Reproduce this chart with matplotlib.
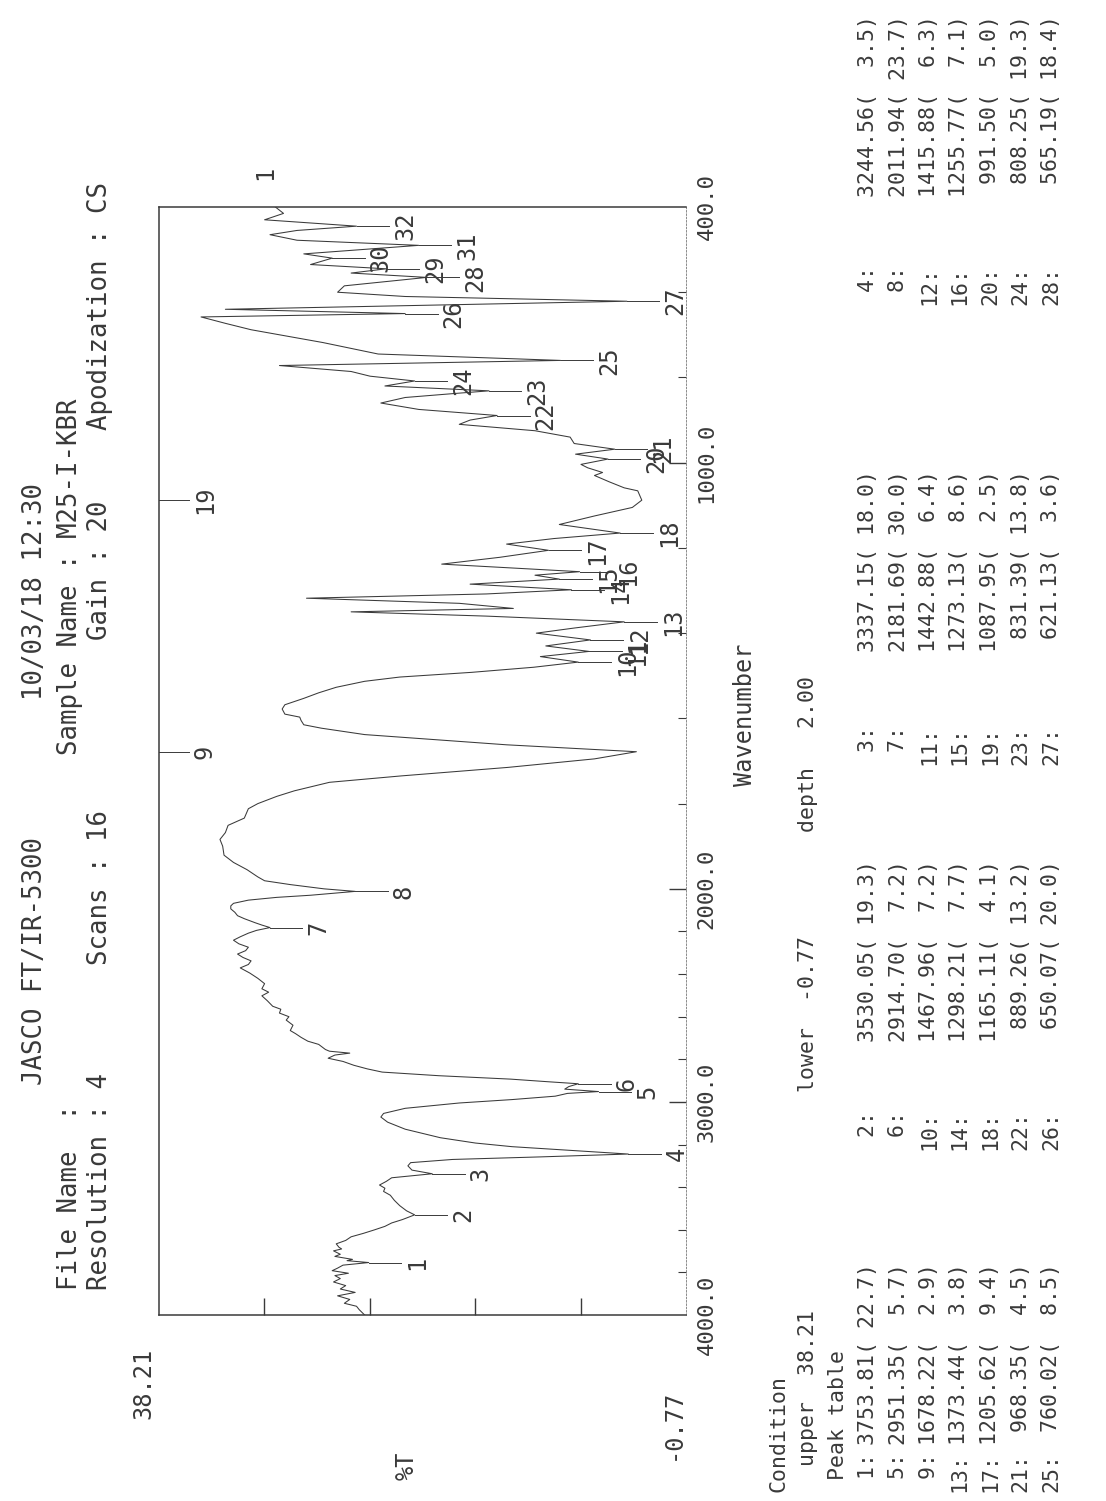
import numpy as np
import matplotlib.pyplot as plt
from matplotlib.transforms import blended_transform_factory

W, H = 1106, 1501
INK = "#3a3a3a"
MONO = "DejaVu Sans Mono"
FS = 17

# spectrum trace (cm-1, %T)
wavenumber = [
    4000, 3975, 3959, 3945, 3927, 3910, 3894, 3878, 3862, 3845, 3829, 3815,
    3804, 3792, 3780, 3766, 3753.81, 3745, 3739, 3725, 3715, 3699, 3690, 3682,
    3666, 3650, 3633, 3617, 3601, 3584, 3568, 3552, 3530.05, 3511, 3487, 3462,
    3438, 3420, 3405, 3390, 3373, 3356, 3337.15, 3320, 3300, 3285, 3270, 3258,
    3244.56, 3226, 3210, 3193, 3168, 3128, 3095, 3071, 3054, 3030, 3005, 2989,
    2973, 2960, 2951.35, 2940, 2928, 2914.70, 2905, 2893, 2877, 2860, 2845, 2828,
    2810, 2795, 2780, 2771, 2762, 2754, 2730, 2715, 2697, 2680, 2665, 2640,
    2616, 2600, 2583, 2565, 2551, 2525, 2502, 2485, 2469, 2445, 2420, 2395,
    2371, 2355, 2338, 2322, 2306, 2290, 2274, 2258, 2241, 2225, 2208, 2195,
    2181.69, 2170, 2159, 2140, 2126, 2110, 2094, 2080, 2068, 2053, 2040, 2030,
    2011.94, 2000, 1990, 1981, 1972, 1955, 1938, 1921, 1900, 1884, 1868, 1851,
    1834, 1812, 1800, 1783, 1770, 1750, 1735, 1715, 1695, 1678.22, 1662, 1650,
    1638, 1623, 1615, 1605, 1597, 1590, 1578, 1568, 1553, 1540, 1527, 1513,
    1503, 1492, 1480, 1467.96, 1455, 1442.88, 1430, 1415.88, 1400, 1388,
    1373.44, 1360, 1350, 1342, 1330, 1318, 1308, 1298.21, 1285, 1273.13, 1264,
    1255.77, 1238, 1222, 1205.62, 1191, 1178, 1165.11, 1145, 1125, 1105,
    1087.95, 1066, 1059, 1045, 1030, 1023, 1012, 1004, 991.50, 980, 968.35,
    955, 940, 925, 910, 900, 889.26, 875, 860, 847, 838, 831.39, 820, 808.25,
    797, 786, 772, 760.02, 745, 718, 688, 673, 658, 650.07, 640, 621.13, 610,
    600, 585, 565.19, 555, 545, 535, 520, 510, 490, 478, 465, 455, 445, 430,
    415, 400,
]
transmittance = [
    23.0, 23.4, 23.6, 24.5, 24.1, 25.0, 23.7, 24.8, 24.4, 25.3, 24.8, 25.2,
    24.2, 25.4, 25.0, 24.6, 22.7, 24.3, 23.9, 25.2, 24.8, 25.3, 24.7, 24.9,
    25.1, 24.4, 24.0, 23.1, 22.3, 21.5, 21.0, 20.2, 19.3, 19.9, 20.4, 20.8,
    21.1, 21.6, 21.5, 21.9, 21.4, 21.0, 18.0, 19.5, 19.8, 19.6, 16.5, 10.0,
    3.5, 8.1, 12.1, 14.8, 17.4, 20.0, 21.3, 21.8, 21.6, 20.0, 16.0, 12.1,
    8.9, 8.0, 5.7, 8.2, 7.9, 7.2, 9.5, 12.2, 17.5, 21.7, 22.8, 23.8,
    24.6, 25.7, 25.2, 24.1, 25.6, 25.9, 26.4, 27.2, 27.7, 28.1, 28.5, 28.3,
    28.8, 28.6, 29.3, 29.2, 29.8, 30.2, 30.6, 30.1, 30.6, 30.4, 30.9, 31.5,
    32.2, 31.6, 31.4, 32.0, 32.4, 31.8, 31.6, 32.3, 32.7, 32.2, 31.6, 31.0,
    30.0, 30.6, 31.1, 31.9, 32.4, 32.6, 32.9, 32.9, 32.7, 31.6, 29.5, 27.0,
    23.7, 26.0, 28.5, 30.4, 30.9, 31.7, 32.7, 33.4, 33.5, 33.7, 33.3, 33.1,
    31.9, 31.6, 30.9, 29.5, 28.2, 25.6, 20.3, 12.4, 6.0, 2.9, 12.5, 17.7,
    23.0, 26.2, 27.5, 27.7, 27.8, 28.9, 29.1, 28.9, 27.5, 26.4, 25.1, 23.0,
    20.4, 15.1, 10.5, 7.2, 10.0, 6.4, 9.6, 6.3, 10.3, 7.5,
    3.8, 14.0, 24.0, 12.0, 16.0, 27.3, 14.0, 7.7, 15.2, 8.6, 10.4,
    7.1, 17.3, 13.0, 9.4, 12.5, 9.0, 4.1, 8.6, 6.0, 3.2,
    2.5, 2.8, 3.8, 4.9, 6.0, 5.4, 6.5, 7.0, 5.0, 7.4, 4.5,
    7.5, 7.8, 10.4, 16.0, 15.2, 13.2, 19.0, 21.8, 20.0, 16.5, 13.8, 21.5, 19.3,
    22.6, 24.0, 29.3, 8.5, 22.0, 26.1, 31.4, 33.3, 35.1, 20.0, 33.3, 3.6, 20.0,
    25.0, 24.5, 18.4, 24.0, 21.4, 27.0, 25.4, 27.5, 19.0, 28.0, 30.0, 28.0, 23.6, 30.4,
    29.0, 29.6,
]

# peak table
peak_no = list(range(1, 33))
peak_wn = [3753.81, 3530.05, 3337.15, 3244.56, 2951.35, 2914.70, 2181.69, 2011.94,
           1678.22, 1467.96, 1442.88, 1415.88, 1373.44, 1298.21, 1273.13, 1255.77,
           1205.62, 1165.11, 1087.95, 991.50, 968.35, 889.26, 831.39, 808.25,
           760.02, 650.07, 621.13, 565.19, 545.0, 520.0, 490.0, 445.0]
peak_t = [22.7, 19.3, 18.0, 3.5, 5.7, 7.2, 30.0, 23.7,
          2.9, 7.2, 6.4, 6.3, 3.8, 7.7, 8.6, 7.1,
          9.4, 4.1, 2.5, 5.0, 4.5, 13.2, 13.8, 19.3,
          8.5, 20.0, 3.6, 18.4, 21.4, 25.4, 19.0, 23.6]
n_table = 28

upper, lower, depth = 38.21, -0.77, 2.00
wn_ticks = [4000, 3000, 2000, 1000, 400]


def fwd(w):
    w = np.asarray(w, dtype=float)
    return np.where(w <= 2000, 2 * w, w + 2000)


def inv(u):
    u = np.asarray(u, dtype=float)
    return np.where(u <= 4000, u / 2, u - 2000)


fig = plt.figure(figsize=(W / 100, H / 100), dpi=100)
fig.patch.set_facecolor("white")


def vtext(x, y, s, size=FS, **kw):
    # text printed along the page, reading bottom to top, y is where it starts
    opts = dict(rotation=90, rotation_mode="anchor", ha="left", va="center",
                family=MONO, size=size, color=INK)
    opts.update(kw)
    fig.text(x / W, 1 - y / H, s, **opts)


# frame, pixel edges
L, R, T, B = 159, 686, 207, 1315
ax = fig.add_axes([L / W, 1 - B / H, (R - L) / W, (B - T) / H])
ax.set_xlim(upper, lower)
ax.set_yscale("function", functions=(fwd, inv))
ax.set_ylim(4000, 400)

ax.plot(transmittance, wavenumber, color=INK, lw=0.75)

for side in ["left", "top", "bottom"]:
    ax.spines[side].set_linewidth(1.1)
    ax.spines[side].set_color(INK)
ax.spines["right"].set_linestyle((0, (2, 2)))
ax.spines["right"].set_linewidth(0.6)
ax.spines["right"].set_color("#777777")

ax.set_xticks(np.linspace(upper, lower, 6)[1:-1])
ax.tick_params(axis="x", direction="in", length=12, width=1, color=INK,
               labelbottom=False)
ax.yaxis.tick_right()
ax.set_yticks([3000, 2000, 1000])
ax.set_yticks(list(range(3800, 2000, -200)) + list(range(1800, 400, -200)), minor=True)
ax.tick_params(axis="y", which="major", direction="in", length=12, width=1,
               color=INK, labelright=False)
ax.tick_params(axis="y", which="minor", direction="in", length=6, width=0.8,
               color=INK)

tr = blended_transform_factory(ax.transAxes, ax.transData)
for w in wn_ticks:
    ax.text(1.02, w, f"{w:.1f}", transform=tr, rotation=90, rotation_mode="anchor",
            ha="center", va="top", family=MONO, size=16, color=INK, clip_on=False)

# peak markers
for n, w, t in zip(peak_no, peak_wn, peak_t):
    if t < 3.2:
        x0, x1 = upper, upper - 2.2
    else:
        x0, x1 = t, t - 2.4
    ax.plot([x0, x1], [w, w], color=INK, lw=0.7, clip_on=False)
    ax.text(x1 - 0.3, w, str(n), rotation=90, rotation_mode="anchor",
            ha="center", va="top", family=MONO, size=FS, color=INK, clip_on=False)

# header
HS = 18.5
vtext(35, 1085, "JASCO FT/IR-5300", HS)
vtext(35, 700, "10/03/18 12:30", HS)
vtext(70, 1290, "File Name  :", HS)
vtext(70, 755, "Sample Name : M25-I-KBR", HS)
vtext(100, 1290, "Resolution : 4", HS)
vtext(100, 965, "Scans : 16", HS)
vtext(100, 640, "Gain : 20", HS)
vtext(100, 430, "Apodization : CS", HS)
vtext(265, 180, "1")

# axis captions
vtext(143, 1383, f"{upper:.2f}", ha="center")
vtext(407, 1466, "%T", ha="center")
vtext(673, 1424, f"{lower:.2f}", ha="center")
vtext(745, 715, "Wavenumber", ha="center")

# condition and peak table
TS = 15.5
vtext(778, 1492, "Condition", TS)
vtext(808, 1466, f"upper  {upper:.2f}", TS)
vtext(808, 1092, f"lower  {lower:.2f}", TS)
vtext(808, 832, f"depth   {depth:.2f}", TS)
vtext(838, 1480, "Peak table", TS)
label_start = [1492, 1150, 765, 305]
value_start = [1445, 1042, 652, 197]
for i in range(0, n_table, 4):
    x = 868 + 30.5 * (i // 4)
    for j, y0, y1 in zip(range(i, i + 4), label_start, value_start):
        vtext(x, y0, f"{peak_no[j]:2d}:", TS)
        vtext(x, y1, f"{peak_wn[j]:7.2f}({peak_t[j]:5.1f})", TS)

fig.savefig("out.png", dpi=100, facecolor="white")
